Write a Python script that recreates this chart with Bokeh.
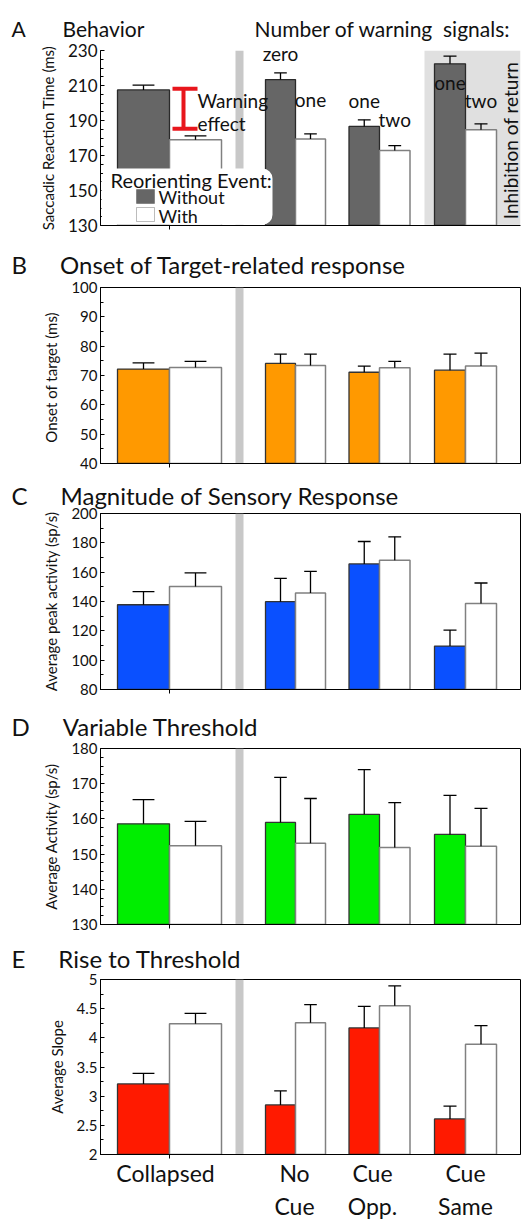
import math
from bokeh.plotting import figure
from bokeh.models import (Range1d, SingleIntervalTicker, FixedTicker, Label, BoxAnnotation,
                          LinearAxis, Title)
from bokeh.layouts import column
from bokeh.embed import file_html
from bokeh.resources import INLINE

FONT = "Lato"
INK = "#111111"

# ---------------- data ----------------
groups = ["Collapsed", "No Cue", "Cue Opp.", "Cue Same"]
group_label_row1 = ["Collapsed", "No", "Cue", "Cue"]
group_label_row2 = ["", "Cue", "Opp.", "Same"]

# A: Behavior (saccadic reaction time, ms)
a_without = [207.5, 213.4, 186.6, 222.4]
a_without_err = [2.7, 3.8, 3.8, 4.4]
a_with = [179.0, 179.5, 172.9, 184.7]
a_with_err = [2.2, 2.9, 2.8, 3.4]
warning_without = ["", "zero", "one", "one"]
warning_with = ["", "one", "two", "two"]
warning_effect = [208.1, 185.3]
a_ticks = [130, 150, 170, 190, 210, 230]

# B: Onset of target-related response (ms)
b_without = [72.2, 74.1, 71.1, 71.8]
b_without_err = [2.1, 3.2, 2.1, 5.5]
b_with = [72.7, 73.4, 72.6, 73.2]
b_with_err = [2.1, 3.9, 2.2, 4.4]

# C: Magnitude of sensory response (sp/s)
c_without = [137.8, 139.9, 165.6, 109.6]
c_without_err = [8.9, 15.9, 15.3, 10.9]
c_with = [150.3, 145.8, 168.1, 138.7]
c_with_err = [9.2, 14.8, 16.0, 13.9]

# D: Variable threshold (sp/s)
d_without = [158.6, 159.0, 161.3, 155.6]
d_without_err = [6.9, 12.8, 12.7, 11.1]
d_with = [152.4, 153.1, 151.9, 152.2]
d_with_err = [6.9, 12.7, 12.7, 10.8]

# E: Rise to threshold (average slope)
e_without = [3.21, 2.85, 4.17, 2.61]
e_without_err = [0.18, 0.24, 0.37, 0.22]
e_with = [4.24, 4.26, 4.55, 3.89]
e_with_err = [0.18, 0.31, 0.34, 0.32]

panel_letters = ["A", "B", "C", "D", "E"]
panel_titles = ["Behavior", "Onset of Target-related response", "Magnitude of Sensory Response",
                "Variable Threshold", "Rise to Threshold"]
a_header_right = "Number of warning\u00a0 signals:"

# ---------------- layout ----------------
W = 530
BORDER_L = 100
BORDER_R = 10
XMAX = W - BORDER_L - BORDER_R
boundaries = [69, 195, 279, 365]
bar_widths = [52, 30, 30.5, 31]
divider = (135, 143)
label_x = [65, 194, 272, 365]
EM, EN, THIN = "\u2003", "\u2002", "\u2009"


def add_text(p, x, y, text, size, align="left", angle=0.0):
    p.add_layout(Label(x=x, y=y, text=text, text_font=FONT, text_font_size=size,
                       text_color=INK, text_align=align, text_baseline="middle",
                       angle=angle))


def make_panel(height, top, bottom, ylo, yhi, ylabel, title_text, title_size="24px",
               title_standoff=17, outline=True, tick_size="15px"):
    p = figure(width=W, height=height, output_backend="svg", toolbar_location=None,
               x_range=Range1d(0, XMAX), y_range=Range1d(ylo, yhi),
               min_border_left=BORDER_L, min_border_right=BORDER_R,
               min_border_top=top, min_border_bottom=bottom)
    p.title = Title(text=title_text, align="left", offset=-89, standoff=title_standoff,
                    text_font=FONT, text_font_size=title_size, text_font_style="normal",
                    text_color=INK)
    p.background_fill_color = "white"
    p.border_fill_color = "white"
    p.xgrid.visible = False
    p.ygrid.visible = False
    if outline:
        p.outline_line_color = "black"
        p.outline_line_width = 1
        p.outline_line_alpha = 1
    else:
        p.outline_line_color = None

    frame_h = height - top - bottom

    def yat(dy):
        return yhi - dy * (yhi - ylo) / frame_h

    ya = p.yaxis[0]
    ya.major_tick_in = 4
    ya.major_tick_out = 0
    ya.minor_tick_in = 3
    ya.minor_tick_out = 0
    ya.axis_line_color = "black"
    ya.major_tick_line_color = "black"
    ya.minor_tick_line_color = "black"
    ya.major_label_text_font = FONT
    ya.major_label_text_font_size = tick_size
    ya.major_label_text_color = INK
    ya.major_label_standoff = 3
    ya.axis_label = ylabel
    ya.axis_label_text_font = FONT
    ya.axis_label_text_font_size = "15px"
    ya.axis_label_text_font_style = "normal"
    ya.axis_label_text_color = INK
    ya.axis_label_standoff = 8

    xa = p.xaxis[0]
    xa.ticker = FixedTicker(ticks=[boundaries[0]])
    xa.major_tick_out = 4
    xa.major_tick_in = 0
    xa.minor_tick_out = 0
    xa.axis_line_color = "black"
    xa.major_tick_line_color = "black"
    xa.major_label_overrides = {boundaries[0]: ""}
    xa.major_label_text_font_size = "1px"
    xa.major_label_standoff = 0

    p.quad(left=[divider[0]], right=[divider[1]], bottom=[ylo], top=[yhi],
           fill_color="#c8c8c8", line_color=None)

    c_wo = [b - w / 2 for b, w in zip(boundaries, bar_widths)]
    c_wi = [b + w / 2 for b, w in zip(boundaries, bar_widths)]
    return p, yat, c_wo, c_wi


def draw_bars(p, ylo, c_wo, c_wi, without, without_err, with_, with_err, color, dark_line="#333333"):
    p.vbar(x=c_wo, width=bar_widths, top=without, bottom=ylo,
           fill_color=color, line_color=dark_line, line_width=1.3)
    p.vbar(x=c_wi, width=bar_widths, top=with_, bottom=ylo,
           fill_color="white", line_color="#808080", line_width=1.5)
    for cs, vals, errs in ((c_wo, without, without_err), (c_wi, with_, with_err)):
        ends = [v + e for v, e in zip(vals, errs)]
        caps = [0.42 * w for w in bar_widths]
        p.segment(x0=cs, y0=vals, x1=cs, y1=ends, line_color="black", line_width=1.3)
        p.segment(x0=[c - cw / 2 for c, cw in zip(cs, caps)], y0=ends,
                  x1=[c + cw / 2 for c, cw in zip(cs, caps)], y1=ends,
                  line_color="black", line_width=1.3)


def heading(i):
    return panel_letters[i] + EM + EN + THIN + panel_titles[i]


items = []

# ---------- A ----------
pA, yA, cwoA, ciA = make_panel(237, 50, 12, 130, 230, "Saccadic Reaction Time (ms)",
                               panel_letters[0] + EM + EN * 2 + panel_titles[0] + EM * 5 + EN * 3
                               + a_header_right,
                               title_size="21px", title_standoff=20,
                               outline=False, tick_size="17px")
pA.yaxis[0].ticker = FixedTicker(ticks=a_ticks,
                                 minor_ticks=list(range(a_ticks[0], a_ticks[-1] + 1, 5)))
ior = pA.quad(left=[324], right=[XMAX], bottom=[130], top=[230], fill_color="#e0e0e0", line_color=None)
pA.renderers.remove(ior)
pA.renderers.insert(0, ior)
draw_bars(pA, 130, cwoA, ciA, a_without, a_without_err, a_with, a_with_err, "#666666", dark_line="#2a2a2a")
pA.segment(x0=[83, 72, 72], y0=[warning_effect[0], warning_effect[0], warning_effect[1]],
           x1=[83, 97, 97], y1=[warning_effect[1], warning_effect[0], warning_effect[1]],
           line_color="#e8161c", line_width=4)
add_text(pA, 97, yA(50), "Warning", "19px")
add_text(pA, 97, yA(73), "effect", "19px")
count_dy_without = [None, 3, 50, 32]
count_dy_with = [None, 49, 69, 50]
for i in range(1, 4):
    add_text(pA, cwoA[i], yA(count_dy_without[i]), warning_without[i], "19px", align="center")
    add_text(pA, ciA[i], yA(count_dy_with[i]), warning_with[i], "19px", align="center")
add_text(pA, 410, yA(90), "Inhibition of return", "19px", align="center", angle=math.pi / 2)
pA.add_layout(BoxAnnotation(left=1, right=172, bottom=130.4, top=yA(118),
                            fill_color="white", fill_alpha=1, line_color=None, border_radius=10))
pA.add_layout(BoxAnnotation(left=36, right=54, bottom=yA(153), top=yA(139),
                            fill_color="#666666", fill_alpha=1, line_color="#222222", line_width=1))
pA.add_layout(BoxAnnotation(left=36, right=54, bottom=yA(171), top=yA(157),
                            fill_color="white", fill_alpha=1, line_color="#222222", line_width=1))
add_text(pA, 10, yA(129), "Reorienting Event:", "20px")
add_text(pA, 58, yA(146), "Without", "18px")
add_text(pA, 58, yA(165), "With", "18px")
items.append(pA)

# ---------- B ----------
pB, yB, cwoB, ciB = make_panel(235, 50, 9, 40, 100, "Onset of target  (ms)", heading(1),
                               title_standoff=18)
pB.yaxis[0].ticker = SingleIntervalTicker(interval=10, num_minor_ticks=2)
draw_bars(pB, 40, cwoB, ciB, b_without, b_without_err, b_with, b_with_err, "#ff9900")
items.append(pB)

# ---------- C ----------
pC, yC, cwoC, ciC = make_panel(229, 41, 12, 80, 200, "Average peak activity (sp/s)", heading(2),
                               title_standoff=7)
pC.yaxis[0].ticker = SingleIntervalTicker(interval=20, num_minor_ticks=2)
draw_bars(pC, 80, cwoC, ciC, c_without, c_without_err, c_with, c_with_err, "#0a50ff")
items.append(pC)

# ---------- D ----------
pD, yD, cwoD, ciD = make_panel(233, 47, 10, 130, 180, "Average Activity (sp/s)", heading(3),
                               title_standoff=15)
pD.yaxis[0].ticker = SingleIntervalTicker(interval=10, num_minor_ticks=4)
draw_bars(pD, 130, cwoD, ciD, d_without, d_without_err, d_with, d_with_err, "#00ee00")
items.append(pD)

# ---------- E ----------
pE, yE, cwoE, ciE = make_panel(289, 45, 69, 2, 5, "Average Slope", heading(4), title_standoff=13)
pE.yaxis[0].ticker = SingleIntervalTicker(interval=0.5, num_minor_ticks=2)
pE.yaxis[0].major_label_overrides = {2: "2", 2.5: "2.5", 3: "3", 3.5: "3.5",
                                     4: "4", 4.5: "4.5", 5: "5"}
draw_bars(pE, 2, cwoE, ciE, e_without, e_without_err, e_with, e_with_err, "#ff1a00")
for row, standoff in ((group_label_row1, 0), (group_label_row2, 2)):
    ax = LinearAxis(ticker=FixedTicker(ticks=label_x),
                    major_label_overrides={x: t for x, t in zip(label_x, row)},
                    major_tick_in=0, major_tick_out=0, minor_tick_in=0, minor_tick_out=0,
                    axis_line_color=None, major_label_text_font=FONT,
                    major_label_text_font_size="23px", major_label_text_color=INK,
                    major_label_standoff=standoff)
    pE.add_layout(ax, "below")
items.append(pE)

layout = column(*items, spacing=0)
open("out.html", "w").write(file_html(layout, INLINE))
